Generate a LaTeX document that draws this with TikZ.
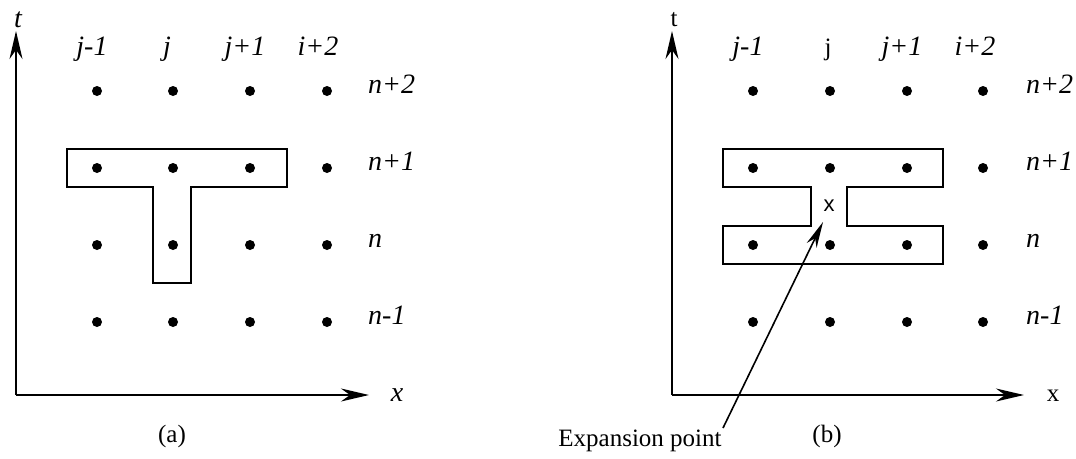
\documentclass[tikz,border=0pt]{standalone}
\usepackage{fontspec}
\setmainfont{Liberation Serif}
\newfontfamily\sansx{Liberation Sans}
\usetikzlibrary{arrows.meta}
\tikzset{
  pt/.style={circle,fill=black,inner sep=0pt,minimum size=10pt},
  lab/.style={font=\fontsize{28}{32}\selectfont\itshape,inner sep=0pt},
  ulab/.style={font=\fontsize{25}{30}\selectfont,inner sep=0pt},
  axis/.style={line width=1.8pt,-{Stealth[length=28pt,width=13pt,inset=9pt]}},
  outline/.style={line width=1.8pt,line join=miter},
  pointer/.style={line width=1.6pt,-{Stealth[length=26pt,width=11pt,inset=8pt]}}
}
\begin{document}
\begin{tikzpicture}[x=1pt,y=-1pt]
\useasboundingbox (0,0) rectangle (1076,458);
% ---------- panel (a) ----------
\coordinate (oa) at (16,395);
\coordinate (ta) at (16,31);
\coordinate (xa) at (369,395);
\draw[axis] (oa) -- (ta);
\draw[axis] (oa) -- (xa);
\node[lab] (tla) at (18,20) {t};
\node[lab,anchor=base] (xla) at (397,401) {x};
\node[ulab] (capa) at (172,436) {(a)};
\foreach \c/\xx in {1/97,2/173,3/250,4/327}{
  \foreach \r/\yy in {1/91,2/168,3/245,4/322}{
    \node[pt] (a\c\r) at (\xx,\yy) {};
  }
}
\node[lab,anchor=base] (ca1) at (92,55) {j-1};
\node[lab,anchor=base] (ca2) at (167,55) {j};
\node[lab,anchor=base] (ca3) at (245,55) {j+1};
\node[lab,anchor=base] (ca4) at (318,55) {i+2};
\node[lab,anchor=base west] (ra1) at (368,93) {n+2};
\node[lab,anchor=base west] (ra2) at (368,170) {n+1};
\node[lab,anchor=base west] (ra3) at (368,247) {n};
\node[lab,anchor=base west] (ra4) at (368,324) {n-1};
\draw[outline] (67,149) -- (287,149) -- (287,187) -- (191,187) -- (191,283)
  -- (153,283) -- (153,187) -- (67,187) -- cycle;
% ---------- panel (b) ----------
\coordinate (ob) at (672,395);
\coordinate (tb) at (672,31);
\coordinate (xb) at (1024,395);
\draw[axis] (ob) -- (tb);
\draw[axis] (ob) -- (xb);
\node[ulab] (tlb) at (674,20) {t};
\node[ulab,anchor=base] (xlb) at (1053,401) {x};
\node[ulab] (capb) at (827,436) {(b)};
\foreach \c/\xx in {1/753,2/830,3/907,4/983}{
  \foreach \r/\yy in {1/91,2/168,3/245,4/322}{
    \node[pt] (b\c\r) at (\xx,\yy) {};
  }
}
\node[lab,anchor=base] (cb1) at (748,55) {j-1};
\node[ulab,anchor=base] (cb2) at (828,55) {j};
\node[lab,anchor=base] (cb3) at (902,55) {j+1};
\node[lab,anchor=base] (cb4) at (975,55) {i+2};
\node[lab,anchor=base west] (rb1) at (1026,93) {n+2};
\node[lab,anchor=base west] (rb2) at (1026,170) {n+1};
\node[lab,anchor=base west] (rb3) at (1026,247) {n};
\node[lab,anchor=base west] (rb4) at (1026,324) {n-1};
\draw[outline] (723,149) -- (943,149) -- (943,187) -- (847,187) -- (847,226)
  -- (943,226) -- (943,264) -- (723,264) -- (723,226) -- (811,226)
  -- (811,187) -- (723,187) -- cycle;
\node[inner sep=0pt,font=\fontsize{22}{26}\selectfont\sansx] (xm) at (829,206) {x};
\node[ulab] (exp) at (640,441) {Expansion point};
\coordinate (tail) at (723,428);
\coordinate (tip) at (823,222);
\draw[pointer] (tail) -- (tip);
\end{tikzpicture}
\end{document}
